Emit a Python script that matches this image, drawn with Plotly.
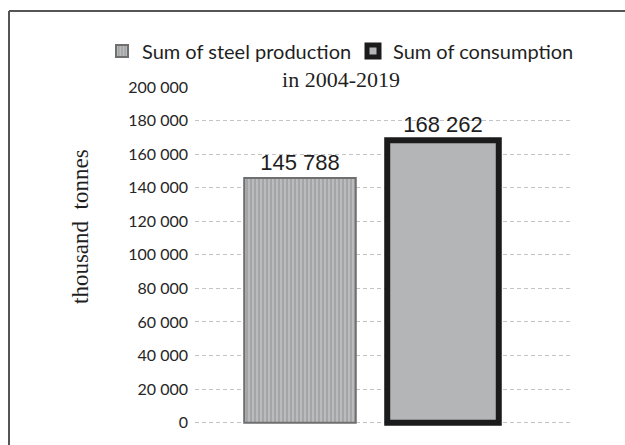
import plotly.graph_objects as go

# Totals for 2004-2019, thousand tonnes
series_names = ["Sum of steel production", "Sum of consumption"]
series_values = [145788, 168262]
tick_values = [0, 20000, 40000, 60000, 80000, 100000, 120000, 140000, 160000, 180000, 200000]

W, H = 625, 445
L, R, T, B = 195, 53, 87, 19


def px_x(p):
    return (p - L) / (W - L - R)


def px_y(p):
    return (H - B - p) / (H - B - T)


fig = go.Figure()

fig.add_trace(go.Bar(
    name=series_names[0],
    x=[0], y=[series_values[0]],
    width=0.78,
    marker=dict(
        color="#a8a9ab",
        line=dict(color="#6f6f6f", width=2),
        pattern=dict(shape="|", fgcolor="#e6e6e6", bgcolor="#a4a5a7", size=4, solidity=0.35),
    ),
    text=[series_values[0]],
    texttemplate="%{y:,d}",
    textposition="outside",
    textfont=dict(family="Liberation Sans", size=22, color="#1e1e1e"),
    cliponaxis=False,
))

fig.add_trace(go.Bar(
    name=series_names[1],
    x=[1], y=[series_values[1]],
    width=0.78,
    marker=dict(color="#b3b5b7", line=dict(color="#1b1b1b", width=6)),
    text=[series_values[1]],
    texttemplate="%{y:,d}",
    textposition="outside",
    textfont=dict(family="Liberation Sans", size=22, color="#1e1e1e"),
    cliponaxis=False,
))

fig.update_layout(
    width=W, height=H,
    margin=dict(l=L, r=R, t=T, b=B),
    paper_bgcolor="white",
    plot_bgcolor="white",
    separators=". ",
    barmode="overlay",
    showlegend=True,
    legend=dict(
        orientation="h",
        x=px_x(102), xanchor="left",
        y=px_y(51), yanchor="middle",
        font=dict(family="Lato", size=20, color="#1f1f1f"),
        itemwidth=30,
        entrywidth=206, entrywidthmode="pixels",
        bgcolor="rgba(0,0,0,0)",
    ),
    title=dict(
        text="in 2004-2019",
        x=px_x(341), xanchor="center", xref="paper",
        y=1 - 79 / H, yref="container", yanchor="middle",
        font=dict(family="Liberation Serif", size=22, color="#1f1f1f"),
    ),
    xaxis=dict(
        range=[-0.734, 1.902],
        showticklabels=False, showgrid=False, zeroline=False, showline=False,
        fixedrange=True,
    ),
    yaxis=dict(
        range=[-2000, 200000],
        tickvals=tick_values,
        tickformat=",d",
        tickfont=dict(family="Lato", size=16, color="#262626"),
        ticklabelstandoff=6,
        showgrid=True, gridcolor="#c4c4c4", gridwidth=1, griddash="4px,3px",
        zeroline=False, showline=False,
    ),
    annotations=[dict(
        text="thousand  tonnes",
        x=px_x(80), y=px_y(226), xref="paper", yref="paper",
        xanchor="center", yanchor="middle",
        textangle=-90, showarrow=False,
        font=dict(family="Liberation Serif", size=23, color="#1f1f1f"),
    )],
    shapes=[
        dict(type="line", xref="paper", yref="paper",
             x0=px_x(9), x1=px_x(9), y0=px_y(450), y1=px_y(11),
             line=dict(color="#555555", width=2)),
        dict(type="line", xref="paper", yref="paper",
             x0=px_x(9), x1=px_x(630), y0=px_y(11), y1=px_y(11),
             line=dict(color="#555555", width=2)),
    ],
)

fig.write_html("out.html")
